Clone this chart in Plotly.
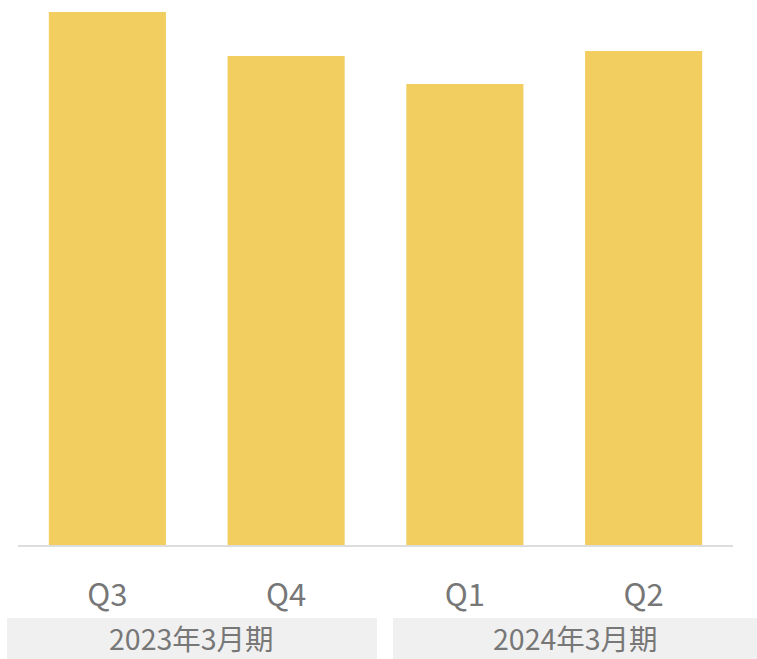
import plotly.graph_objects as go

quarters = ["Q3", "Q4", "Q1", "Q2"]
values = [533, 489, 461, 494]
groups = ["2023年3月期", "2024年3月期"]
group_spans = [(-0.0154, 0.5021), (0.5245, 1.0336)]

FONT = "Noto Sans CJK JP"
TEXT = "#777777"

fig = go.Figure(go.Bar(x=quarters, y=values, marker=dict(color="#F2CD60", line=dict(width=0)),
                       hoverinfo="skip"))

shapes = []
annotations = []
for g, (x0, x1) in zip(groups, group_spans):
    shapes.append(dict(type="rect", xref="paper", yref="paper", x0=x0, x1=x1,
                       y0=-0.2095, y1=-0.134, fillcolor="#F0F0F0", line=dict(width=0), layer="below"))
    annotations.append(dict(text=g, xref="paper", yref="paper", x=(x0 + x1) / 2, y=-0.1705,
                            showarrow=False, xanchor="center", yanchor="middle",
                            font=dict(family=FONT, size=28.5, color=TEXT)))

fig.update_layout(
    width=757, height=659,
    margin=dict(l=18, r=24, t=0, b=114),
    paper_bgcolor="white", plot_bgcolor="white",
    bargap=0.345,
    showlegend=False,
    shapes=shapes, annotations=annotations,
    xaxis=dict(showline=True, linecolor="#DDDDDD", linewidth=2, ticks="", showgrid=False,
               tickfont=dict(family=FONT, size=31, color=TEXT), ticklabelstandoff=22),
    yaxis=dict(range=[0, 545], visible=False, showgrid=False),
)

fig.write_html("out.html")
